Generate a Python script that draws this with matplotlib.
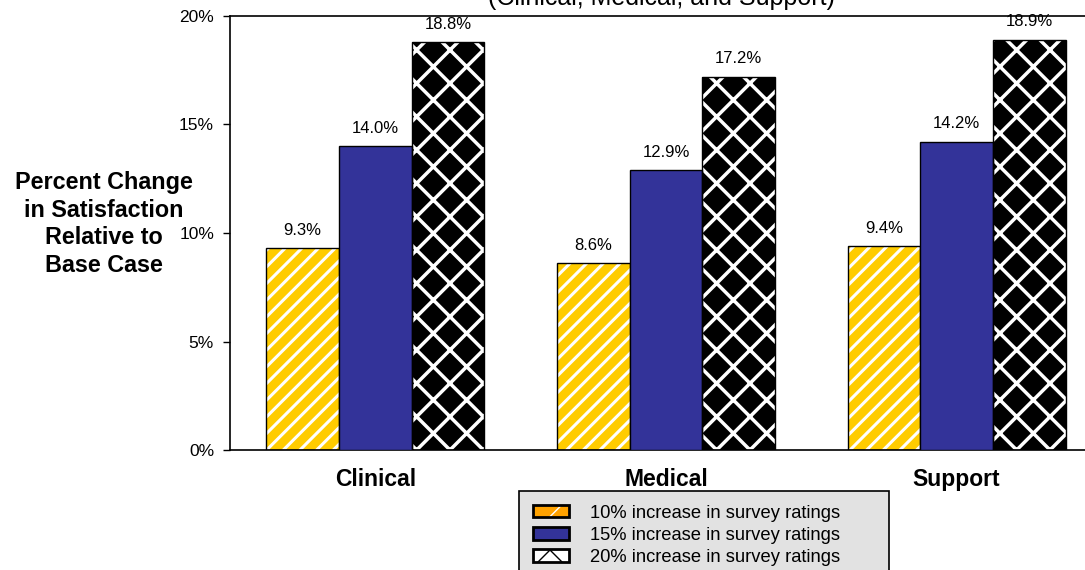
import matplotlib
matplotlib.use("Agg")
import matplotlib.pyplot as plt
import numpy as np
from matplotlib.patches import Patch
from matplotlib.legend_handler import HandlerTuple

plt.rcParams["font.family"] = ["Liberation Sans", "DejaVu Sans"]

# data
categories = ["Clinical", "Medical", "Support"]
series_names = ["10% increase in survey ratings",
                "15% increase in survey ratings",
                "20% increase in survey ratings"]
inc10 = [9.3, 8.6, 9.4]
inc15 = [14.0, 12.9, 14.2]
inc20 = [18.8, 17.2, 18.9]
yticks = [0, 5, 10, 15, 20]

YELLOW = "#FFCC00"
ORANGE = "#FFA200"
BLUE = "#333399"
LEGEND_BG = "#E2E2E2"

W, H = 1085, 570
fig = plt.figure(figsize=(W / 100, H / 100), dpi=100)
ax = fig.add_axes([230 / W, 120 / H, 872 / W, 434 / H])

x = np.arange(len(categories))
bw = 0.25


def hatched_bars(xpos, vals, face, hatch_col, hatch, hlw):
    with plt.rc_context({"hatch.linewidth": hlw}):
        bars = ax.bar(xpos, vals, bw, color=face, edgecolor=hatch_col,
                      hatch=hatch, linewidth=0, zorder=2)
    for b in bars:
        if hasattr(b, "set_hatch_linewidth"):
            b.set_hatch_linewidth(hlw)
    # black outline on top
    ax.bar(xpos, vals, bw, fill=False, edgecolor="black", linewidth=1, zorder=3)
    return bars


hatched_bars(x - bw, inc10, YELLOW, "white", "//", 2.2)
ax.bar(x, inc15, bw, color=BLUE, edgecolor="black", linewidth=1, zorder=3)
hatched_bars(x + bw, inc20, "black", "white", "x", 2.5)

for off, vals in [(-bw, inc10), (0, inc15), (bw, inc20)]:
    for xi, v in zip(x + off, vals):
        ax.annotate(f"{v:.1f}%", (xi, v), textcoords="offset points",
                    xytext=(0, 7.5), ha="center", va="bottom", fontsize=12)

ax.set_xlim(-0.5, 2.5)
ax.set_ylim(0, 20)
ax.set_yticks(yticks)
ax.set_yticklabels([f"{t}%" for t in yticks])
ax.tick_params(axis="y", direction="out", length=5, width=1, pad=6.5,
               labelsize=12.5)
ax.set_xticks(x)
ax.set_xticklabels(categories, fontsize=16.5, fontweight="bold")
ax.tick_params(axis="x", length=0, pad=13)
for s in ["left", "bottom", "top"]:
    ax.spines[s].set_linewidth(1.2)
ax.spines["right"].set_visible(False)

fig.text(104 / W, 1 - 224 / H,
         "Percent Change\nin Satisfaction\nRelative to\nBase Case",
         ha="center", va="center", ma="center", fontsize=16.8,
         fontweight="bold", linespacing=1.25)

fig.text(661 / W, 1 - 5 / H, "(Clinical, Medical, and Support)",
         ha="center", va="baseline", fontsize=18)

# legend handles: hatch layer + outline layer
with plt.rc_context({"hatch.linewidth": 3.0}):
    h10 = (Patch(facecolor=ORANGE, edgecolor="white", hatch="/", linewidth=0),
           Patch(fill=False, edgecolor="black", linewidth=2))
    h20 = (Patch(facecolor="white", edgecolor="black", hatch="x", linewidth=0),
           Patch(fill=False, edgecolor="black", linewidth=2))
h15 = Patch(facecolor=BLUE, edgecolor="black", linewidth=2)

leg = fig.legend([h10, h15, h20], series_names,
                 handler_map={tuple: HandlerTuple(ndivide=1)},
                 loc="upper left",
                 bbox_to_anchor=(519 / W, 1 - 491 / H, 370 / W, 0),
                 mode="expand", borderaxespad=0, fontsize=13.2,
                 handlelength=2.0, handleheight=0.65, handletextpad=1.1,
                 labelspacing=0.28, borderpad=0.75, fancybox=False,
                 framealpha=1, edgecolor="black", facecolor=LEGEND_BG)
leg.get_frame().set_linewidth(1.2)

fig.savefig("out.png", dpi=100, facecolor="white")
